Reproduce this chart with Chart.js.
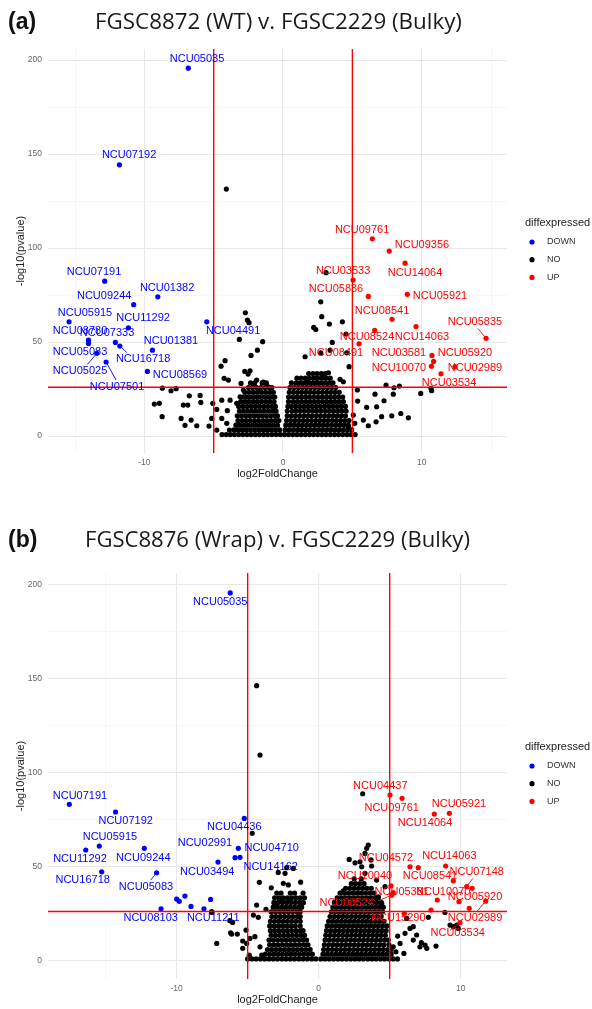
<!DOCTYPE html>
<html>
<head>
<meta charset="utf-8">
<script src="https://cdn.jsdelivr.net/npm/chart.js@4.4.1/dist/chart.umd.min.js"></script>
<style>
  body { margin: 0; background: #fff; width: 592px; height: 1009px; overflow: hidden; position: relative; }
  canvas { position: absolute; left: 0; }
  #chartA { top: 0; }
  #chartB { top: 520px; }
</style>
</head>
<body>
<canvas id="chartA" width="592" height="505"></canvas>
<canvas id="chartB" width="592" height="489"></canvas>
<script>
// ================= DATA =================
const groups = ["DOWN", "NO", "UP"];
const xMajor = [-10, 0, 10];
const yMajor = [0, 50, 100, 150, 200];
const xGridA = [-15, -10, -5, 0, 5, 10, 15];
const xGridB = [-15, -10, -5, 0, 5, 10];
const yGrid = [0, 25, 50, 75, 100, 125, 150, 175, 200];
const fcCut = [-5, 5];
const pCut = 26;

const titleA = "FGSC8872 (WT) v. FGSC2229 (Bulky)";
const titleB = "FGSC8876 (Wrap) v. FGSC2229 (Bulky)";

// labelled genes: name, log2FC, -log10(p), label x, label y, [segment end x, y]
const downA = [
  ["NCU05035", -6.83, 195.7, -6.2, 200.5],
  ["NCU07192", -11.8, 144.3, -11.1, 149.5],
  ["NCU07191", -12.86, 82.4, -13.63, 87.2],
  ["NCU09244", -10.77, 69.9, -12.9, 74.5],
  ["NCU01382", -9.03, 74.1, -8.36, 78.7],
  ["NCU05915", -15.43, 60.8, -14.28, 65.4],
  ["NCU11292", -11.15, 57.6, -10.09, 62.8],
  ["NCU04491", -5.5, 60.8, -3.6, 55.9],
  ["NCU08780", -14.03, 49.2, -14.64, 55.9],
  ["NCU07333", -12.09, 49.8, -12.69, 54.8],
  ["NCU16718", -11.77, 47.9, -10.09, 41, -11.27, 44.5],
  ["NCU01381", -9.42, 45.7, -8.08, 50.5],
  ["NCU05083", -14.03, 51, -14.64, 44.7],
  ["NCU05025", -13.43, 44, -14.64, 34.6, -14.11, 38.1],
  ["NCU07501", -12.76, 39.4, -11.97, 26.1, -12.04, 29.8],
  ["NCU08569", -9.78, 34.4, -7.43, 32.4]
];
const upA = [
  ["NCU09761", 6.44, 104.9, 5.7, 109.6],
  ["NCU09356", 7.66, 98.4, 10.02, 101.6],
  ["NCU14064", 8.8, 92, 9.52, 86.7],
  ["NCU03533", 5.05, 83, 4.33, 87.8],
  ["NCU05836", 6.15, 74.3, 3.82, 78.2],
  ["NCU05921", 8.96, 75.4, 11.32, 74.5],
  ["NCU08541", 7.86, 62.1, 7.14, 66.5],
  ["NCU14063", 9.59, 58.3, 10.02, 52.7],
  ["NCU05835", 14.64, 52, 13.84, 60.6, 14.04, 57.3],
  ["NCU08524", 6.61, 56.2, 6.06, 52.7],
  ["NCU08491", 5.48, 49.1, 3.82, 44.1],
  ["NCU03581", 10.74, 42.9, 8.36, 44.1],
  ["NCU05920", 10.86, 39.7, 13.12, 44.1],
  ["NCU10070", 10.7, 37.2, 8.36, 36.2],
  ["NCU02989", 12.4, 36.9, 13.84, 36.2],
  ["NCU03534", 11.39, 33.1, 11.97, 28.2]
];
const downB = [
  ["NCU05035", -6.23, 195.4, -6.93, 190.6],
  ["NCU07191", -17.56, 83, -16.81, 87.6],
  ["NCU07192", -14.3, 78.9, -13.59, 74.1],
  ["NCU05915", -15.45, 60.8, -14.7, 65.4],
  ["NCU11292", -16.4, 58.7, -16.81, 53.9],
  ["NCU09244", -12.28, 59.6, -12.35, 54.3],
  ["NCU16718", -15.28, 47.1, -16.62, 42.6],
  ["NCU05083", -11.41, 46.6, -12.16, 39.1, -11.83, 42.7],
  ["NCU04436", -5.24, 75.5, -5.94, 70.7],
  ["NCU02991", -5.66, 59.6, -8.01, 62.6],
  ["NCU04710", -5.54, 54.8, -3.31, 59.6],
  ["NCU14162", -5.89, 54.6, -3.38, 49.8],
  ["NCU03494", -7.09, 52.3, -7.85, 47.1],
  ["NCU08103", -11.1, 27.4, -11.83, 22.7],
  ["NCU11211", -8.08, 27.4, -7.42, 22.7]
];
const upB = [
  ["NCU04437", 5.02, 87.9, 4.34, 92.7],
  ["NCU09761", 5.87, 86.2, 5.14, 81.2],
  ["NCU14064", 8.14, 77.8, 7.49, 72.9],
  ["NCU05921", 9.2, 78.2, 9.88, 83.1],
  ["NCU04572", 6.43, 49.8, 4.74, 54.3],
  ["NCU14063", 8.94, 50.2, 9.2, 55.5],
  ["NCU08541", 7.01, 49.3, 7.84, 44.8],
  ["NCU07148", 10.42, 39.2, 11.13, 47.1, 10.85, 43.6],
  ["NCU10040", 5.09, 39.7, 3.26, 44.8],
  ["NCU05381", 5.25, 36, 5.85, 36.5],
  ["NCU10070", 10.8, 38.3, 8.77, 36.5],
  ["NCU05920", 10.6, 27.7, 11.01, 33.5],
  ["NCU02989", 11.76, 31.5, 11.01, 22.7, 11.13, 25.9],
  ["NCU03534", 9.95, 20, 9.79, 14.7, 9.25, 16.1],
  ["NCU08524", 5.14, 34.7, 1.97, 30.6, 4.32, 32.1],
  ["NCU15290", 6.03, 25, 5.61, 22.7]
];

// unlabelled significant genes
const downExtraB = [[-10, 32.6], [-9.82, 31.4], [-9.42, 34.2], [-8.99, 28.7], [-7.61, 32.4]];
const upExtraB = [[9.48, 42.3], [8.35, 32.1], [7.91, 26.8], [9.88, 31.2]];

// scattered non-significant genes
const noScatterA = [
  [-4.09, 131.4], [-2.72, 65.6], [-2.57, 61.7], [-2.45, 60.3], [-3.15, 51.4], [-1.47, 50.2], [-1.85, 45.7],
  [-2.31, 42.9], [-4.18, 40.1], [-4.47, 37.2], [-2.76, 34.4], [-2.38, 34.7], [-2.52, 33], [-4.25, 30.7],
  [-3.94, 29.8], [-1.9, 29.8], [-1.42, 28.7], [-3.03, 28], [-8.7, 25.5], [-8.08, 24.1], [-7.71, 25.2],
  [-9.28, 17], [-8.92, 17.4], [-7.19, 16.5], [-6.87, 16.5], [-6.76, 21.4], [-5.98, 21.6], [-5.93, 17.9],
  [-8.72, 10.3], [-7.35, 9.4], [-6.63, 8.5], [-7.07, 5.7], [-6.22, 5.5], [-5.34, 5.3], [-5.14, 9.4],
  [-5.07, 17.4], [-4.78, 14.2], [-4.42, 19.1], [-3.82, 19.1], [-4.02, 13.5], [-4.42, 9.4], [-4.06, 6.8],
  [-4.78, 3.2], [-3.87, 3.2], [-3.34, 17.4], [-3.1, 20.9], [-2.86, 24.5], [-2.14, 26.2], [-1.78, 24.5],
  [-1.06, 26.2],
  [3.1, 86.9], [2.72, 71.4], [2.79, 63.5], [2.21, 57.8], [2.36, 56.7], [3.34, 59.6], [4.28, 60.8],
  [4.54, 54.3], [3.55, 49.8], [1.59, 42.2], [2.72, 44.3], [3.39, 45.7], [4.59, 44.3], [4.76, 36.9],
  [3.27, 33.7], [2.83, 33], [2.43, 30.7], [1.71, 29.8], [4.11, 30.2], [4.35, 28.9], [5.36, 24.5],
  [6.63, 22.3], [7.43, 27.1], [8, 25.7], [8.39, 26.6], [7.95, 22.3], [7.28, 18.8], [5.38, 18.6],
  [6.03, 15.3], [6.75, 15.6], [7.11, 10.3], [7.84, 10.8], [8.49, 12], [9.04, 9.7], [6.15, 5.5],
  [5.79, 8.5], [5.07, 11.2], [5.17, 6.8], [4.71, 4.9], [6.71, 7.6], [9.93, 22.7], [10.67, 25.4],
  [10.72, 24.1]
];
const noScatterB = [
  [-4.37, 146.1], [-4.13, 109.2], [-4.68, 67.6], [-4.18, 41.5], [-3.34, 38.6], [-2.85, 46.8], [-2.37, 46.3],
  [-2.25, 49.3], [-1.79, 48.9], [-2.49, 41], [-2.14, 40.1], [-1.27, 41.6], [-4.37, 29.4], [-3.71, 27.1],
  [-3.12, 30.3], [-2.56, 32.1], [-2.14, 31.2], [-1.08, 30.6], [-7.54, 25.9], [-6.25, 21.1], [-6.06, 20.2],
  [-4.6, 24.1], [-4.25, 22.9], [-5.12, 16.1], [-6.13, 14], [-5.73, 14], [-7.18, 9], [-5.35, 10.3],
  [-5.07, 9], [-4.84, 11.7], [-5.35, 6.4], [-4.89, 2.8], [-4.49, 12.6], [-4.13, 7.2], [-4.01, 2.8],
  [-6.2, 14.7], [-7.51, 25.5],
  [3.1, 88.6], [3.49, 61.3], [3.38, 59.6], [3.26, 56.9], [3.68, 53.4], [3.73, 50.2], [2.15, 53.7],
  [2.56, 51.9], [2.91, 52.4], [3.03, 49.8], [1.73, 37], [4.67, 39.2], [4.08, 42.7], [3.26, 46.3],
  [4.2, 33.8], [4.44, 30.3], [7.72, 22.9], [8.89, 25.5], [9.25, 18.8], [9.48, 17.9], [9.72, 18.8],
  [9.83, 17], [6.43, 17], [6.66, 17.9], [6.2, 22.3], [6.08, 14.4], [6.9, 13.5], [6.66, 10.8],
  [7.13, 7.2], [7.49, 8.1], [7.61, 6.4], [8.26, 7.6], [5.56, 12.9], [5.73, 9], [5.44, 4.6],
  [6.0, 3.7], [5.25, 7.2], [7.23, 9.4]
];

// dense volcano body, row by row: [-log10(p), [log2FC ...]]
const cloudA = [
  [0.8, [-4.4, -4.1, -3.8, -3.5, -3.2, -2.9, -2.6, -2.3, -2.0, -1.7, -1.4, -1.1, -0.8, -0.5, -0.2,
         0.1, 0.4, 0.7, 1.0, 1.3, 1.6, 1.9, 2.2, 2.5, 2.8, 3.1, 3.4, 3.7, 4.0, 4.3, 4.6, 4.9, 5.2]],
  [3.3, [-3.55, -3.25, -2.95, -2.65, -2.35, -2.05, -1.75, -1.45, -1.15, -0.85, -0.55, -0.25,
         0.15, 0.45, 0.75, 1.05, 1.35, 1.65, 1.95, 2.25, 2.55, 2.85, 3.15, 3.45, 3.75, 4.05, 4.35, 4.65, 4.95]],
  [5.8, [-3.4, -3.1, -2.8, -2.5, -2.2, -1.9, -1.6, -1.3, -1.0, -0.7, -0.4,
         0.2, 0.5, 0.8, 1.1, 1.4, 1.7, 2.0, 2.3, 2.6, 2.9, 3.2, 3.5, 3.8, 4.1, 4.4, 4.7]],
  [8.3, [-3.25, -2.95, -2.65, -2.35, -2.05, -1.75, -1.45, -1.15, -0.85, -0.55, -0.3,
         0.25, 0.55, 0.85, 1.15, 1.45, 1.75, 2.05, 2.35, 2.65, 2.95, 3.25, 3.55, 3.85, 4.15, 4.45, 4.75]],
  [10.8, [-3.3, -3.0, -2.7, -2.4, -2.1, -1.8, -1.5, -1.2, -0.9, -0.6, -0.4,
          0.3, 0.6, 0.9, 1.2, 1.5, 1.8, 2.1, 2.4, 2.7, 3.0, 3.3, 3.6, 3.9, 4.2, 4.5]],
  [13.3, [-3.15, -2.85, -2.55, -2.25, -1.95, -1.65, -1.35, -1.05, -0.75, -0.5,
          0.3, 0.65, 0.95, 1.25, 1.55, 1.85, 2.15, 2.45, 2.75, 3.05, 3.35, 3.65, 3.95, 4.25, 4.55]],
  [15.8, [-3.2, -2.9, -2.6, -2.3, -2.0, -1.7, -1.4, -1.1, -0.8, -0.55,
          0.35, 0.6, 0.9, 1.2, 1.5, 1.8, 2.1, 2.4, 2.7, 3.0, 3.3, 3.6, 3.9, 4.2, 4.5]],
  [18.3, [-3.05, -2.75, -2.45, -2.15, -1.85, -1.55, -1.25, -0.95, -0.65,
          0.4, 0.75, 1.05, 1.35, 1.65, 1.95, 2.25, 2.55, 2.85, 3.15, 3.45, 3.75, 4.05, 4.35]],
  [20.8, [-2.9, -2.6, -2.3, -2.0, -1.7, -1.4, -1.1, -0.8, -0.6,
          0.4, 0.7, 1.0, 1.3, 1.6, 1.9, 2.2, 2.5, 2.8, 3.1, 3.4, 3.7, 4.0, 4.3]],
  [23.3, [-2.75, -2.45, -2.15, -1.85, -1.55, -1.25, -0.95, -0.7,
          0.45, 0.75, 1.05, 1.35, 1.65, 1.95, 2.25, 2.55, 2.85, 3.15, 3.45, 3.75, 4.05]],
  [25.8, [-2.5, -2.2, -1.9, -1.6, -1.3, -1.0, -0.8,
          0.5, 0.8, 1.1, 1.4, 1.7, 2.0, 2.3, 2.6, 2.9, 3.2, 3.5, 3.8]],
  [28.3, [-2.35, -2.05, -1.5, -1.2,
          0.6, 0.95, 1.25, 1.55, 1.85, 2.15, 2.45, 2.75, 3.05, 3.35, 3.6]],
  [30.8, [1.0, 1.3, 1.6, 1.9, 2.2, 2.5, 2.8, 3.1, 3.4]],
  [33.3, [1.85, 2.15, 2.45, 2.75, 3.05]]
];
const cloudB = [
  [0.8, [-5.0, -4.7, -4.4, -4.1, -3.8, -3.5, -3.2, -2.9, -2.6, -2.3, -2.0, -1.7, -1.4, -1.1, -0.8, -0.5, -0.2,
         0.15, 0.45, 0.75, 1.05, 1.35, 1.65, 1.95, 2.25, 2.55, 2.85, 3.15, 3.45, 3.75, 4.05, 4.35, 4.65, 4.95, 5.25, 5.55]],
  [3.3, [-3.75, -3.45, -3.15, -2.85, -2.55, -2.25, -1.95, -1.65, -1.35, -1.05, -0.75, -0.45,
         0.3, 0.6, 0.9, 1.2, 1.5, 1.8, 2.1, 2.4, 2.7, 3.0, 3.3, 3.6, 3.9, 4.2, 4.5, 4.8, 5.1]],
  [5.8, [-3.6, -3.3, -3.0, -2.7, -2.4, -2.1, -1.8, -1.5, -1.2, -0.9, -0.6,
         0.35, 0.65, 0.95, 1.25, 1.55, 1.85, 2.15, 2.45, 2.75, 3.05, 3.35, 3.65, 3.95, 4.25, 4.55, 4.85, 5.1]],
  [8.3, [-3.45, -3.15, -2.85, -2.55, -2.25, -1.95, -1.65, -1.35, -1.05, -0.75,
         0.4, 0.7, 1.0, 1.3, 1.6, 1.9, 2.2, 2.5, 2.8, 3.1, 3.4, 3.7, 4.0, 4.3, 4.6, 4.95]],
  [10.8, [-3.5, -3.2, -2.9, -2.6, -2.3, -2.0, -1.7, -1.4, -1.1, -0.85,
          0.45, 0.75, 1.05, 1.35, 1.65, 1.95, 2.25, 2.55, 2.85, 3.15, 3.45, 3.75, 4.05, 4.35, 4.65, 4.9]],
  [13.3, [-3.35, -3.05, -2.75, -2.45, -2.15, -1.85, -1.55, -1.25, -1.0,
          0.5, 0.8, 1.1, 1.4, 1.7, 2.0, 2.3, 2.6, 2.9, 3.2, 3.5, 3.8, 4.1, 4.4, 4.7]],
  [15.8, [-3.4, -3.1, -2.8, -2.5, -2.2, -1.9, -1.6, -1.3, -1.1,
          0.55, 0.85, 1.15, 1.45, 1.75, 2.05, 2.35, 2.65, 2.95, 3.25, 3.55, 3.85, 4.15, 4.45, 4.75]],
  [18.3, [-3.45, -3.15, -2.85, -2.55, -2.25, -1.95, -1.65, -1.3,
          0.6, 0.9, 1.2, 1.5, 1.8, 2.1, 2.4, 2.7, 3.0, 3.3, 3.6, 3.9, 4.2, 4.5, 4.8]],
  [20.8, [-3.4, -3.1, -2.8, -2.5, -2.2, -1.9, -1.6, -1.3,
          0.7, 1.0, 1.3, 1.6, 1.9, 2.2, 2.5, 2.8, 3.1, 3.4, 3.7, 4.0, 4.3, 4.6]],
  [23.3, [-3.3, -3.0, -2.7, -2.4, -2.1, -1.8, -1.5, -1.3,
          0.8, 1.1, 1.4, 1.7, 2.0, 2.3, 2.6, 2.9, 3.2, 3.5, 3.8, 4.1, 4.4]],
  [25.8, [-3.35, -3.05, -2.75, -2.45, -2.15, -1.85, -1.55, -1.3,
          0.9, 1.2, 1.5, 1.8, 2.1, 2.4, 2.7, 3.0, 3.3, 3.6, 3.9, 4.2, 4.5]],
  [28.3, [-3.2, -2.9, -2.6, -2.3, -2.0, -1.7, -1.4, -1.2,
          1.0, 1.3, 1.6, 1.9, 2.2, 2.5, 2.8, 3.1, 3.4, 3.7, 4.0, 4.3, 4.55]],
  [30.8, [-3.15, -2.85, -2.55, -2.25, -1.95, -1.65, -1.35, -1.1,
          1.1, 1.4, 1.7, 2.0, 2.3, 2.6, 2.9, 3.2, 3.5, 3.8, 4.1, 4.4]],
  [33.3, [-3.1, -2.8, -2.5, -2.2, -1.9, -1.6, -1.3, -1.0,
          1.3, 1.6, 1.9, 2.2, 2.5, 2.8, 3.1, 3.4, 3.7, 4.0, 4.2]],
  [35.8, [-2.95, -2.65, -2.0, -1.7, -1.1,
          1.5, 1.8, 2.1, 2.4, 2.7, 3.0, 3.3, 3.6, 3.9]],
  [38.3, [1.9, 2.2, 2.5, 2.8, 3.1, 3.4, 3.7]],
  [40.8, [2.3, 2.6, 2.9, 3.2]],
  [43.3, [2.5, 3.0]]
];


// ================= STYLE =================
const SANS = '"Liberation Sans", Arial, Helvetica, sans-serif';
const TITLE_FONT = '"Open Sans", "Noto Sans", sans-serif';
const colors = { DOWN: "#0000ff", NO: "#000000", UP: "#ff0000" };
const MAJOR = "#e8e8e8";
const MINOR = "#f4f4f4";


// ================= HELPERS =================
function fromPairs(list) {
  return list.map(([x, y]) => ({ x, y }));
}

function fromRows(rows) {
  const pts = [];
  rows.forEach(([y, xs]) => xs.forEach(x => pts.push({ x, y })));
  return pts;
}

function fromLabels(list) {
  return list.map(r => ({ x: r[1], y: r[2] }));
}


// ================= PANEL PLUGIN =================
function panelPlugin(p) {
  return {
    id: "panel" + p.tag,

    afterDatasetsDraw(chart) {
      const { ctx, chartArea: a, scales: { x, y } } = chart;
      ctx.save();

      // cut-off lines
      ctx.strokeStyle = "#ff0000";
      ctx.lineWidth = 1.4;
      ctx.beginPath();
      fcCut.forEach(v => {
        const px = x.getPixelForValue(v);
        ctx.moveTo(px, a.top);
        ctx.lineTo(px, a.bottom);
      });
      const py = y.getPixelForValue(pCut);
      ctx.moveTo(a.left, py);
      ctx.lineTo(a.right, py);
      ctx.stroke();

      // gene labels
      ctx.font = "11px " + SANS;
      ctx.textAlign = "center";
      ctx.textBaseline = "middle";
      [[p.down, colors.DOWN], [p.up, colors.UP]].forEach(([list, col]) => {
        list.forEach(r => {
          ctx.fillStyle = col;
          ctx.strokeStyle = col;
          if (r.length > 5) {
            ctx.lineWidth = 0.9;
            ctx.beginPath();
            ctx.moveTo(x.getPixelForValue(r[1]), y.getPixelForValue(r[2]));
            ctx.lineTo(x.getPixelForValue(r[5]), y.getPixelForValue(r[6]));
            ctx.stroke();
          }
          ctx.fillText(r[0], x.getPixelForValue(r[3]), y.getPixelForValue(r[4]));
        });
      });
      ctx.restore();
    },

    afterDraw(chart) {
      const { ctx, chartArea: a } = chart;
      ctx.save();

      // panel tag
      ctx.fillStyle = "#111";
      ctx.textBaseline = "middle";
      ctx.textAlign = "left";
      ctx.font = "bold 23px " + SANS;
      ctx.fillText(p.tag, 8, p.titleY);

      // title, fitted to width
      ctx.font = "20px " + TITLE_FONT;
      const w = ctx.measureText(p.title).width;
      const size = 20 * (p.titleRight - p.titleLeft) / w;
      ctx.font = size.toFixed(2) + "px " + TITLE_FONT;
      ctx.fillStyle = "#1a1a1a";
      ctx.fillText(p.title, p.titleLeft, p.titleY);

      // axis titles
      ctx.fillStyle = "#222";
      ctx.font = "11px " + SANS;
      ctx.textAlign = "center";
      ctx.fillText("log2FoldChange", (a.left + a.right) / 2, a.bottom + 21);
      ctx.save();
      ctx.translate(21, (a.top + a.bottom) / 2);
      ctx.rotate(-Math.PI / 2);
      ctx.fillText("-log10(pvalue)", 0, 0);
      ctx.restore();

      // legend
      const lx = 525, ly = a.top + 174;
      ctx.textAlign = "left";
      ctx.fillStyle = "#222";
      ctx.font = "11px " + SANS;
      ctx.fillText("diffexpressed", lx, ly);
      ctx.font = "9px " + SANS;
      groups.forEach((g, i) => {
        const yy = ly + 19 + i * 17.7;
        ctx.fillStyle = colors[g];
        ctx.beginPath();
        ctx.arc(lx + 7, yy, 2.6, 0, Math.PI * 2);
        ctx.fill();
        ctx.fillStyle = "#333";
        ctx.fillText(g, lx + 22, yy);
      });
      ctx.restore();
    }
  };
}


// ================= BUILD CHART =================
function makeChart(canvasId, p) {
  const tickFont = { family: SANS, size: 8.5 };

  new Chart(document.getElementById(canvasId), {
    type: "scatter",
    data: {
      datasets: [
        { label: "DOWN", data: fromLabels(p.down).concat(fromPairs(p.downExtra)), backgroundColor: colors.DOWN },
        { label: "UP", data: fromLabels(p.up).concat(fromPairs(p.upExtra)), backgroundColor: colors.UP },
        { label: "NO", data: fromRows(p.cloud).concat(fromPairs(p.scatter)), backgroundColor: colors.NO }
      ]
    },
    options: {
      responsive: false,
      animation: false,
      events: [],
      layout: { padding: { top: p.padTop, right: 85, left: 0, bottom: 0 } },
      elements: { point: { radius: 2.6, borderWidth: 0, hoverRadius: 2.6 } },
      plugins: { legend: { display: false }, tooltip: { enabled: false } },
      scales: {
        x: {
          type: "linear",
          min: p.xMin,
          max: p.xMax,
          afterBuildTicks: s => { s.ticks = p.xGrid.map(v => ({ value: v })); },
          afterFit: s => { s.height = p.xAxisH; },
          border: { display: false },
          grid: {
            drawTicks: false,
            color: c => xMajor.includes(c.tick.value) ? MAJOR : MINOR,
            lineWidth: c => xMajor.includes(c.tick.value) ? 1.1 : 0.8
          },
          ticks: {
            padding: 5,
            autoSkip: false,
            maxRotation: 0,
            color: "#666",
            font: tickFont,
            callback: v => xMajor.includes(v) ? String(v) : ""
          }
        },
        y: {
          type: "linear",
          min: p.yMin,
          max: p.yMax,
          afterBuildTicks: s => { s.ticks = yGrid.map(v => ({ value: v })); },
          afterFit: s => { s.width = 48; },
          border: { display: false },
          grid: {
            drawTicks: false,
            color: c => yMajor.includes(c.tick.value) ? MAJOR : MINOR,
            lineWidth: c => yMajor.includes(c.tick.value) ? 1.1 : 0.8
          },
          ticks: {
            padding: 6,
            autoSkip: false,
            color: "#666",
            font: tickFont,
            callback: v => yMajor.includes(v) ? String(v) : ""
          }
        }
      }
    },
    plugins: [panelPlugin(p)]
  });
}


// ================= START =================
makeChart("chartA", {
  tag: "(a)", title: titleA, titleY: 23, titleLeft: 95, titleRight: 462,
  down: downA, up: upA, downExtra: [], upExtra: [],
  cloud: cloudA, scatter: noScatterA,
  xMin: -16.95, xMax: 16.15, yMin: -9, yMax: 205.9, xGrid: xGridA,
  padTop: 49, xAxisH: 52
});

makeChart("chartB", {
  tag: "(b)", title: titleB, titleY: 21, titleLeft: 85, titleRight: 470,
  down: downB, up: upB, downExtra: downExtraB, upExtra: upExtraB,
  cloud: cloudB, scatter: noScatterB,
  xMin: -19.06, xMax: 13.26, yMin: -9.9, yMax: 206, xGrid: xGridB,
  padTop: 53, xAxisH: 30
});
</script>
</body>
</html>
